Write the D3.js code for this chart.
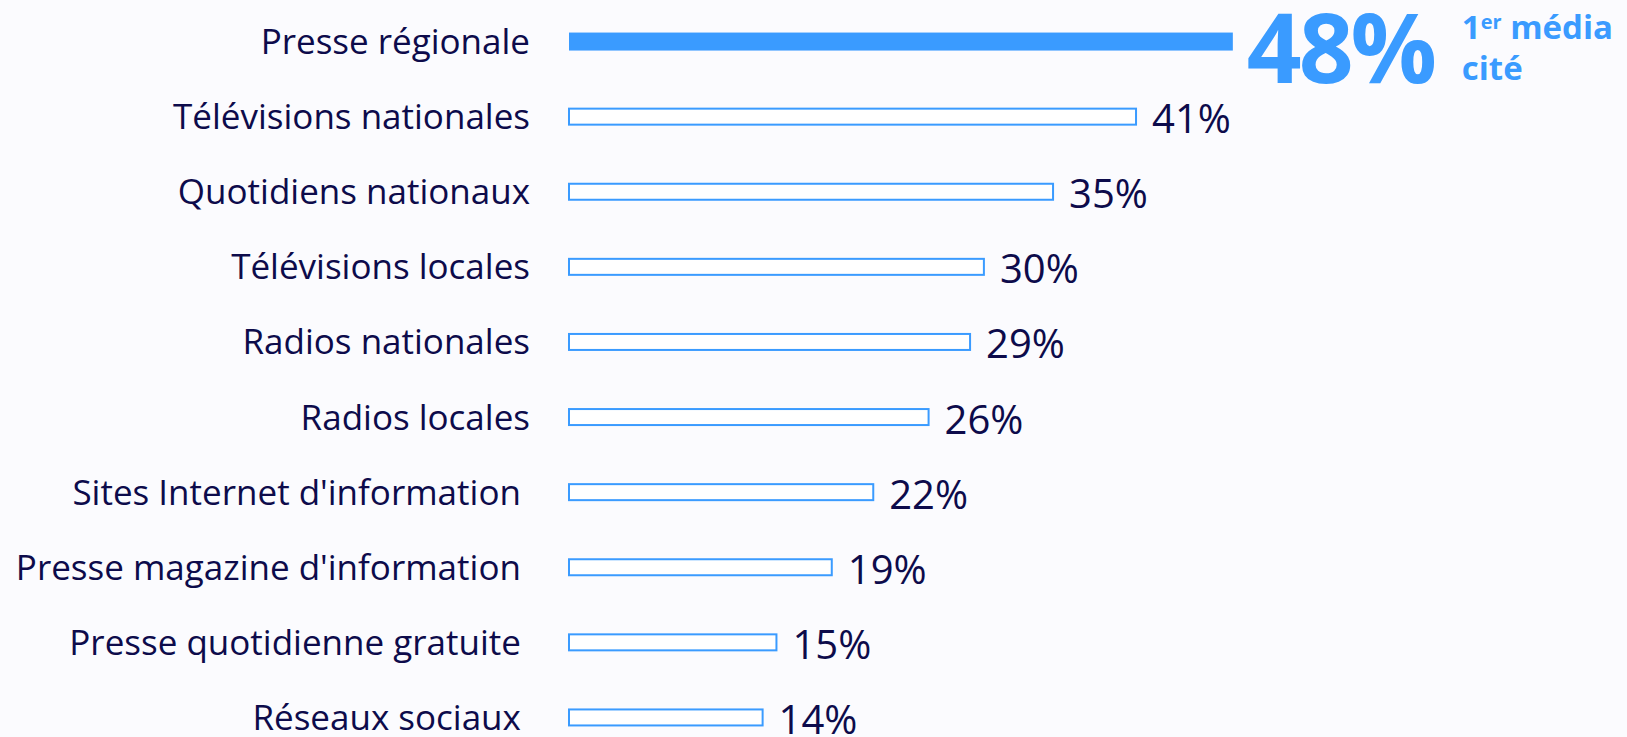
<!DOCTYPE html>
<html>
<head>
<meta charset="utf-8">
<script src="https://cdn.jsdelivr.net/npm/d3@7"></script>
<style>
  html, body { margin: 0; padding: 0; background: #fbfbfe; }
  svg { display: block; }
</style>
</head>
<body>
<svg width="1627" height="737"></svg>
<script>
const categories = [
  "Presse régionale",
  "Télévisions nationales",
  "Quotidiens nationaux",
  "Télévisions locales",
  "Radios nationales",
  "Radios locales",
  "Sites Internet d'information ",
  "Presse magazine d'information ",
  "Presse quotidienne gratuite ",
  "Réseaux sociaux "
];
const values = [48, 41, 35, 30, 29, 26, 22, 19, 15, 14];
const valueLabels = ["48%", "41%", "35%", "30%", "29%", "26%", "22%", "19%", "15%", "14%"];

const svg = d3.select("svg"),
      marginLeft = 569,
      marginTop = 4;

const navy = "#0d0b4b",
      blue = "#3a9bff",
      font = "'Open Sans', 'Noto Sans', sans-serif";

// 1% ~ 13.83px
const x = d3.scaleLinear().domain([0, 100]).range([marginLeft, marginLeft + 1383]);
const y = d3.scaleBand().domain(categories).range([marginTop, marginTop + 75.1 * categories.length]).padding(0);

const rows = svg.append("g")
  .selectAll("g")
  .data(categories.map((c, i) => ({ cat: c, v: values[i], lab: valueLabels[i], i })))
  .enter()
  .append("g")
  .attr("transform", d => `translate(0,${y(d.cat) + y.bandwidth() / 2})`);

// category labels
rows.append("text")
  .attr("x", marginLeft - 39)
  .attr("y", 12.5)
  .attr("text-anchor", "end")
  .style("font-family", font)
  .style("font-size", "35px")
  .style("white-space", "pre")
  .attr("fill", navy)
  .text(d => d.cat);

// bars
rows.append("rect")
  .attr("x", x(0))
  .attr("y", d => d.i === 0 ? -9 : -8)
  .attr("width", d => x(d.v) - x(0))
  .attr("height", d => d.i === 0 ? 18 : 16)
  .attr("fill", d => d.i === 0 ? blue : "#ffffff")
  .attr("stroke", blue)
  .attr("stroke-width", d => d.i === 0 ? 0 : 2);

// value labels (except first)
rows.filter(d => d.i > 0).append("text")
  .attr("x", d => x(d.v) + 16)
  .attr("y", 16.5)
  .style("font-family", font)
  .style("font-size", "40px")
  .attr("fill", navy)
  .text(d => d.lab);

// highlighted first value
const first = rows.filter(d => d.i === 0);
first.append("text")
  .attr("x", d => x(d.v) + 14)
  .attr("y", 41)
  .style("font-family", font)
  .style("font-weight", "700")
  .style("font-size", "96px")
  .style("letter-spacing", "-3px")
  .attr("fill", blue)
  .text(d => d.lab);

const note = first.append("text")
  .style("font-family", font)
  .style("font-weight", "700")
  .style("font-size", "33px")
  .attr("fill", blue);
note.append("tspan").attr("x", d => x(d.v) + 229).attr("y", -2.5).text("1");
note.append("tspan").attr("dy", -10).style("font-size", "20px").text("er");
note.append("tspan").attr("dy", 10).text(" média");
note.append("tspan").attr("x", d => x(d.v) + 229).attr("y", 38.5).text("cité");
</script>
</body>
</html>
